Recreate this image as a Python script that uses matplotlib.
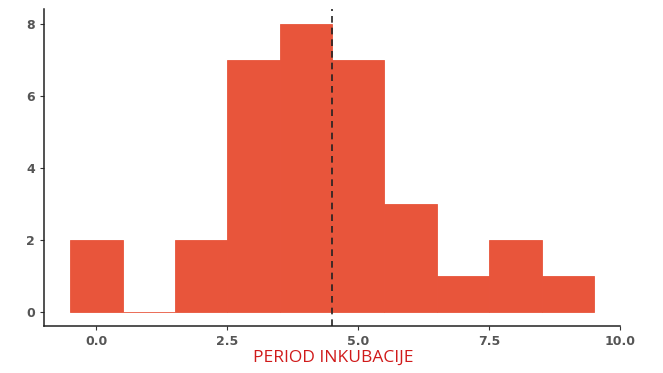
import numpy as np
import matplotlib
matplotlib.use("Agg")
import matplotlib.pyplot as plt

# histogram data (bin width 1)
bin_centers = [0, 1, 2, 3, 4, 5, 6, 7, 8, 9]
counts = [2, 0, 2, 7, 8, 7, 3, 1, 2, 1]
mean_line = 4.5
x_ticks = [0.0, 2.5, 5.0, 7.5, 10.0]
x_labels = ["0.0", "2.5", "5.0", "7.5", "10.0"]
y_ticks = [0, 2, 4, 6, 8]
title_text = "PERIOD INKUBACIJE"

fig = plt.figure(figsize=(6.63, 3.73), dpi=100)
ax = fig.add_axes([0.0664, 0.126, 0.869, 0.849])

bar_col = "#e8553b"
ax.bar(bin_centers, counts, width=1.0, color=bar_col, edgecolor=bar_col, linewidth=0.6)
ax.axvline(mean_line, color="#222222", linestyle=(0, (4, 3)), linewidth=1.2)

ax.set_xlim(-1.0, 10.0)
ax.set_ylim(-0.4, 8.4)
ax.set_xticks(x_ticks)
ax.set_xticklabels(x_labels)
ax.set_yticks(y_ticks)

for s in ["top", "right"]:
    ax.spines[s].set_visible(False)
for s in ["left", "bottom"]:
    ax.spines[s].set_linewidth(1.1)
    ax.spines[s].set_color("#222222")
ax.tick_params(axis="both", colors="#333333", labelcolor="#555555",
               labelsize=9, length=3, width=0.8)
for lab in ax.get_xticklabels() + ax.get_yticklabels():
    lab.set_fontweight("bold")

fig.text(0.502, 0.04, title_text, color="#d01a1a", fontsize=12.5,
         family="Open Sans", ha="center", va="center")

fig.savefig("out.png", dpi=100)
